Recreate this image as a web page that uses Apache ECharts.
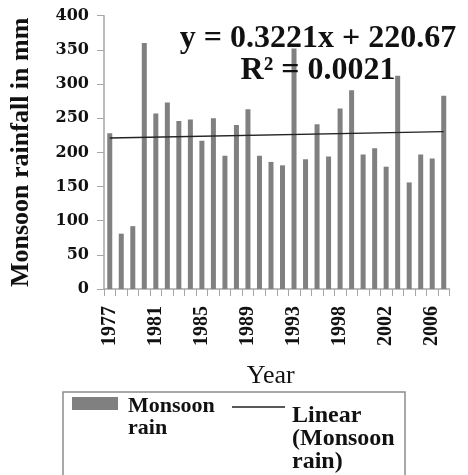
<!DOCTYPE html>
<html>
<head>
<meta charset="utf-8">
<script src="https://cdn.jsdelivr.net/npm/echarts@6/dist/echarts.min.js"></script>
<style>
  html, body { margin: 0; padding: 0; background: #fff; }
  #chart { width: 468px; height: 475px; }
</style>
</head>
<body>
<div id="chart"></div>
<script>
// ---- data ----
const years = ['1977','1978','1979','1980','1981','1982','1983','1984','1985','1986',
               '1987','1988','1989','1990','1991','1992','1993','1995','1996','1997',
               '1998','1999','2000','2001','2002','2003','2004','2005','2006','2007'];
const monsoonRain = [228, 81, 92, 360, 257, 273, 246, 248, 217, 250,
                     195, 240, 263, 195, 186, 181, 352, 190, 241, 194,
                     264, 291, 197, 206, 179, 312, 156, 197, 191, 283];
// linear trend line end points (from y = 0.3221x + 220.67, x = 1 and x = 30)
const trendYears = ['1977', '2007'];
const trendValues = [220.99, 230.33];
const seriesNames = ['Monsoon rain', 'Linear (Monsoon rain)'];
const legendTexts = ['Monsoon\nrain', 'Linear\n(Monsoon\nrain)'];
const equationLines = ['y = 0.3221x + 220.67', 'R² = 0.0021'];
const yMin = 0, yMax = 400, yStep = 50;
const xTitle = 'Year';
const yTitle = 'Monsoon rainfall in mm';

const chart = echarts.init(document.getElementById('chart'), null, { renderer: 'canvas' });
const axisGray = '#a6a6a6';
const barGray = '#808080';
const ink = '#111';

const option = {
  animation: false,
  backgroundColor: '#fff',
  grid: { left: 104, right: 18.5, top: 15.7, bottom: 186, containLabel: false, outerBoundsMode: 'none' },
  xAxis: {
    type: 'category',
    data: years,
    boundaryGap: true,
    axisLine: { lineStyle: { color: axisGray, width: 1.5 } },
    axisTick: { show: true, interval: 0, length: 7, lineStyle: { color: axisGray } },
    axisLabel: { interval: 3, rotate: 90, margin: 17, fontFamily: 'Liberation Serif',
                 fontWeight: 'bold', fontSize: 20, color: ink },
    name: xTitle, nameLocation: 'middle', nameGap: 74,
    nameTextStyle: { fontFamily: 'Liberation Serif', fontSize: 26, color: ink, padding: [0, 12, 0, 0] }
  },
  yAxis: {
    type: 'value', min: yMin, max: yMax, interval: yStep,
    axisLine: { show: true, lineStyle: { color: axisGray, width: 1.5 } },
    axisTick: { show: true, length: 7, lineStyle: { color: axisGray } },
    splitLine: { show: false },
    axisLabel: { margin: 15, fontFamily: 'DejaVu Serif', fontWeight: 'bold', fontSize: 16, color: ink },
    name: yTitle, nameLocation: 'middle', nameGap: 70,
    nameTextStyle: { fontFamily: 'Liberation Serif', fontWeight: 'bold', fontSize: 26, color: ink }
  },
  series: [
    {
      name: seriesNames[0], type: 'bar', data: monsoonRain, barWidth: 5,
      itemStyle: { color: barGray }, z: 2
    },
    {
      name: seriesNames[1], type: 'line',
      data: trendYears.map((y, i) => [y, trendValues[i]]),
      showSymbol: false, symbol: 'none',
      lineStyle: { color: '#222', width: 1.3 }, z: 3
    }
  ],
  graphic: [
    { type: 'text', x: 318, y: 23, z: 10,
      style: { text: equationLines[0], align: 'center', verticalAlign: 'top',
               font: 'bold 32px "Liberation Serif"', fill: ink, lineHeight: 32 } },
    { type: 'text', x: 318, y: 55, z: 10,
      style: { text: equationLines[1], align: 'center', verticalAlign: 'top',
               font: 'bold 32px "Liberation Serif"', fill: ink, lineHeight: 32 } },
    // legend box
    { type: 'rect', shape: { x: 63, y: 392, width: 342, height: 110 }, z: 10,
      style: { fill: '#fff', stroke: '#8c8c8c', lineWidth: 1.5 } },
    { type: 'rect', shape: { x: 72, y: 397, width: 46, height: 13 }, z: 11,
      style: { fill: barGray } },
    { type: 'text', x: 128, y: 395, z: 11,
      style: { text: legendTexts[0], align: 'left', verticalAlign: 'top',
               font: 'bold 22px "Liberation Serif"', fill: ink, lineHeight: 22 } },
    { type: 'line', shape: { x1: 232, y1: 407, x2: 285, y2: 407 }, z: 11,
      style: { stroke: '#222', lineWidth: 1.5 } },
    { type: 'text', x: 292, y: 404, z: 11,
      style: { text: legendTexts[1], align: 'left', verticalAlign: 'top',
               font: 'bold 24px "Liberation Serif"', fill: ink, lineHeight: 23 } }
  ]
};
chart.setOption(option);
</script>
</body>
</html>
